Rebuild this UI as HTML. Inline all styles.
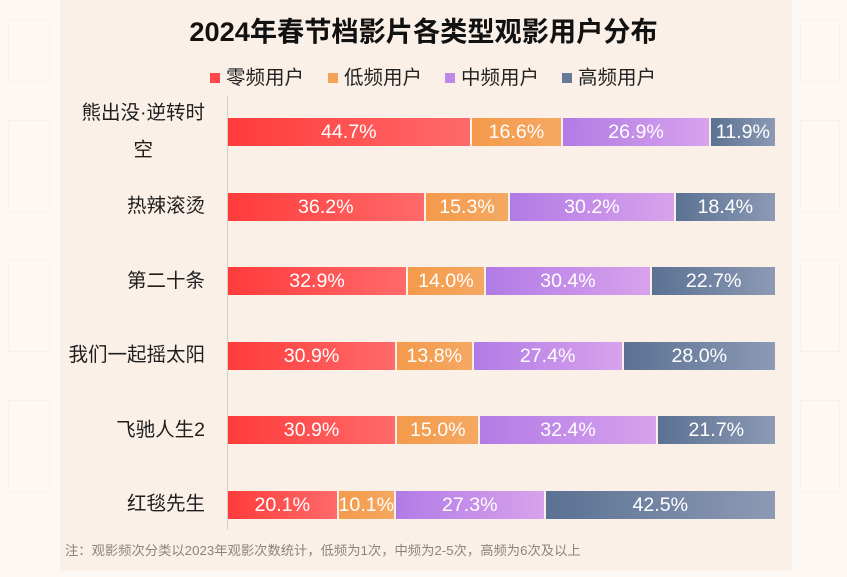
<!DOCTYPE html>
<html>
<head>
<meta charset="utf-8">
<style>
html,body{margin:0;padding:0;}
body{width:847px;height:577px;overflow:hidden;background:#fdf8f4;position:relative;font-family:"Liberation Sans","Noto Sans CJK SC",sans-serif;}
.panel{position:absolute;left:60px;top:0;width:732px;height:571px;background:#fbf0e8;}
.title{position:absolute;left:0;width:847px;top:13px;text-align:center;font-size:27.2px;font-weight:bold;color:#111;line-height:38px;}
.legend{position:absolute;top:64px;left:0;height:28px;}
.lg{position:absolute;top:0;font-size:19.5px;line-height:28px;color:#222;white-space:nowrap;}
.sq{position:absolute;top:9px;width:10px;height:10px;}
.axis{position:absolute;left:227px;top:96px;width:1px;height:434px;background:#d4cdc8;}
.lbl{position:absolute;right:642px;font-size:19.5px;color:#1e1e1e;text-align:center;white-space:nowrap;}
.row{position:absolute;left:228px;width:547px;height:28px;display:flex;gap:2px;}
.seg{height:28px;color:#fff;font-size:19.6px;line-height:28px;text-align:center;white-space:nowrap;overflow:visible;}
.r{background:linear-gradient(90deg,#ff3b3b,#ff6a6a);}
.o{background:linear-gradient(90deg,#f49a4b,#f5a862);}
.p{background:linear-gradient(90deg,#b17be6,#d8a2ec);}
.b{background:linear-gradient(90deg,#5b7193,#8c9ab4);}
.note{position:absolute;left:65px;top:542px;font-size:13.3px;color:#8a847f;white-space:nowrap;line-height:18px;}
.pat{position:absolute;border:1px solid #f9f2ec;}
</style>
</head>
<body>
<div class="pat" style="left:8px;top:20px;width:40px;height:60px;"></div>
<div class="pat" style="left:8px;top:120px;width:40px;height:90px;"></div>
<div class="pat" style="left:8px;top:260px;width:40px;height:90px;"></div>
<div class="pat" style="left:8px;top:400px;width:40px;height:90px;"></div>
<div class="pat" style="left:800px;top:20px;width:38px;height:60px;"></div>
<div class="pat" style="left:800px;top:120px;width:38px;height:90px;"></div>
<div class="pat" style="left:800px;top:260px;width:38px;height:90px;"></div>
<div class="pat" style="left:800px;top:400px;width:38px;height:90px;"></div>
<div class="panel"></div>
<div class="title">2024年春节档影片各类型观影用户分布</div>

<div class="legend">
  <div class="sq" style="left:210px;background:#ff4747;"></div>
  <div class="lg" style="left:226px;">零频用户</div>
  <div class="sq" style="left:328px;background:#f5a258;"></div>
  <div class="lg" style="left:344px;">低频用户</div>
  <div class="sq" style="left:445px;background:#bd88e8;"></div>
  <div class="lg" style="left:461px;">中频用户</div>
  <div class="sq" style="left:562px;background:#667b9c;"></div>
  <div class="lg" style="left:578px;">高频用户</div>
</div>

<div class="axis"></div>

<div class="lbl" style="top:95px;line-height:37px;">熊出没·逆转时<br>空</div>
<div class="lbl" style="top:192px;line-height:28px;">热辣滚烫</div>
<div class="lbl" style="top:267px;line-height:28px;">第二十条</div>
<div class="lbl" style="top:341px;line-height:28px;">我们一起摇太阳</div>
<div class="lbl" style="top:416px;line-height:28px;">飞驰人生2</div>
<div class="lbl" style="top:490px;line-height:28px;">红毯先生</div>

<div class="row" style="top:118px;">
  <div class="seg r" style="flex:44.7 1 0;">44.7%</div>
  <div class="seg o" style="flex:16.6 1 0;">16.6%</div>
  <div class="seg p" style="flex:26.9 1 0;">26.9%</div>
  <div class="seg b" style="flex:11.9 1 0;">11.9%</div>
</div>
<div class="row" style="top:192.5px;">
  <div class="seg r" style="flex:36.2 1 0;">36.2%</div>
  <div class="seg o" style="flex:15.3 1 0;">15.3%</div>
  <div class="seg p" style="flex:30.2 1 0;">30.2%</div>
  <div class="seg b" style="flex:18.4 1 0;">18.4%</div>
</div>
<div class="row" style="top:267px;">
  <div class="seg r" style="flex:32.9 1 0;">32.9%</div>
  <div class="seg o" style="flex:14.0 1 0;">14.0%</div>
  <div class="seg p" style="flex:30.4 1 0;">30.4%</div>
  <div class="seg b" style="flex:22.7 1 0;">22.7%</div>
</div>
<div class="row" style="top:341.5px;">
  <div class="seg r" style="flex:30.9 1 0;">30.9%</div>
  <div class="seg o" style="flex:13.8 1 0;">13.8%</div>
  <div class="seg p" style="flex:27.4 1 0;">27.4%</div>
  <div class="seg b" style="flex:28.0 1 0;">28.0%</div>
</div>
<div class="row" style="top:416px;">
  <div class="seg r" style="flex:30.9 1 0;">30.9%</div>
  <div class="seg o" style="flex:15.0 1 0;">15.0%</div>
  <div class="seg p" style="flex:32.4 1 0;">32.4%</div>
  <div class="seg b" style="flex:21.7 1 0;">21.7%</div>
</div>
<div class="row" style="top:490.5px;">
  <div class="seg r" style="flex:20.1 1 0;">20.1%</div>
  <div class="seg o" style="flex:10.1 1 0;">10.1%</div>
  <div class="seg p" style="flex:27.3 1 0;">27.3%</div>
  <div class="seg b" style="flex:42.5 1 0;">42.5%</div>
</div>

<div class="note">注：观影频次分类以2023年观影次数统计，低频为1次，中频为2-5次，高频为6次及以上</div>
</body>
</html>
